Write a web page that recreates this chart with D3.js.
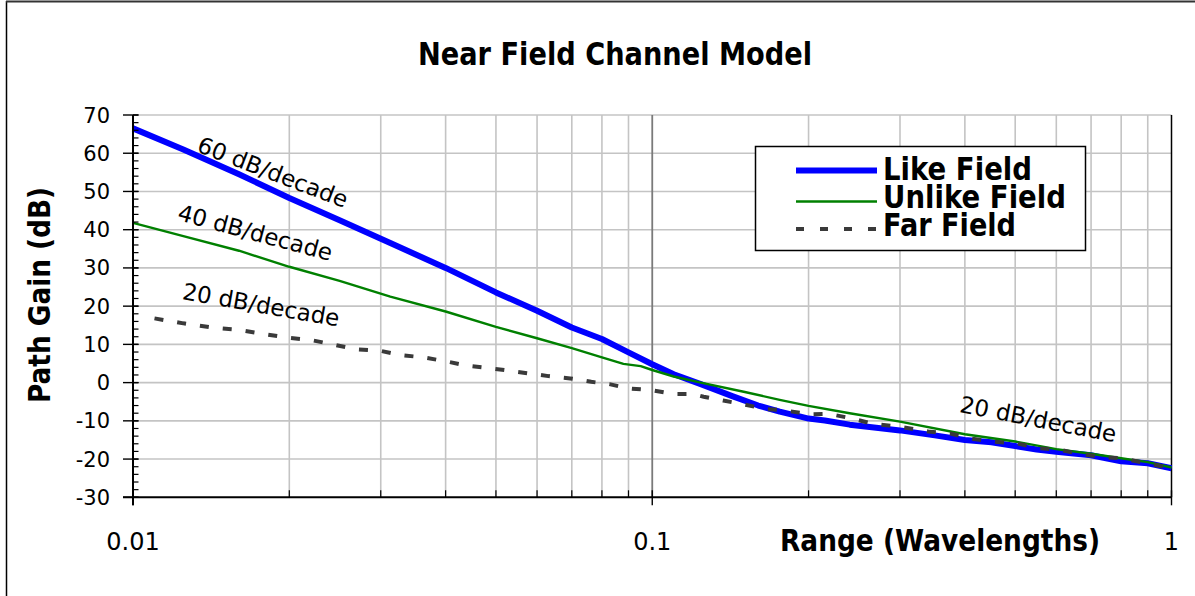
<!DOCTYPE html>
<html><head><meta charset="utf-8">
<script src="https://cdn.jsdelivr.net/npm/d3@7"></script>
<style>html,body{margin:0;padding:0;background:#fff;} svg{display:block;}</style>
</head><body><svg id="chart" width="1195" height="596"></svg>
<script>
// ---------------- data ----------------
const likeRange = [0.01, 0.0125, 0.016, 0.02, 0.025, 0.0313, 0.04, 0.05, 0.06, 0.07, 0.08, 0.09, 0.1, 0.11, 0.124, 0.143, 0.16, 0.176, 0.193, 0.2, 0.215, 0.24, 0.27, 0.3, 0.35, 0.4, 0.45, 0.5, 0.55, 0.6, 0.7, 0.8, 0.9, 1.0];
const likeGain  = [66.5, 61.0, 54.5, 48.3, 42.5, 36.5, 30.0, 23.6, 18.8, 14.4, 11.4, 7.9, 4.8, 2.2, -0.4, -3.6, -6.0, -7.6, -8.9, -9.4, -9.9, -11.0, -11.8, -12.5, -13.8, -15.0, -15.6, -16.6, -17.5, -18.1, -19.0, -20.6, -21.1, -22.4];

const unlikeRange = [0.01, 0.0125, 0.016, 0.02, 0.025, 0.0313, 0.04, 0.05, 0.06, 0.07, 0.08, 0.088, 0.095, 0.1, 0.11, 0.124, 0.15, 0.176, 0.2, 0.24, 0.3, 0.4, 0.5, 0.6, 0.7, 0.8, 0.9, 1.0];
const unlikeGain  = [41.8, 38.3, 34.5, 30.3, 26.6, 22.5, 18.6, 14.6, 11.6, 9.0, 6.6, 4.9, 4.3, 3.3, 1.6, 0.0, -2.4, -4.5, -6.1, -8.0, -10.2, -13.5, -15.4, -17.4, -18.6, -19.8, -20.8, -22.2];

const farRange = [0.011, 0.0125, 0.0142, 0.016, 0.0179, 0.02, 0.0221, 0.0246, 0.0269, 0.03, 0.0327, 0.0363, 0.0403, 0.0441, 0.0498, 0.0565, 0.0631, 0.0695, 0.0763, 0.0827, 0.0898, 0.1, 0.11, 0.12, 0.1256, 0.137, 0.15, 0.165, 0.178, 0.193, 0.202, 0.219, 0.241, 0.266, 0.305, 0.34, 0.375, 0.41, 0.451, 0.504, 0.559, 0.611, 0.668, 0.73, 0.80, 0.88, 1.0];
const farGain  = [16.8, 15.5, 14.4, 13.8, 12.7, 11.7, 11.1, 9.8, 8.7, 8.3, 7.2, 6.6, 5.5, 4.4, 3.6, 2.6, 1.7, 1.1, 0.2, -0.4, -1.5, -2.0, -3.0, -3.0, -3.7, -4.7, -5.7, -6.9, -7.2, -7.9, -8.3, -8.2, -9.3, -10.8, -11.7, -12.8, -13.3, -14.6, -15.4, -15.9, -17.2, -17.6, -18.7, -19.4, -19.8, -20.9, -22.4];

const xTickValues = [0.01, 0.1, 1];
const xTickLabels = ["0.01", "0.1", "1"];
const yTickValues = [-30, -20, -10, 0, 10, 20, 30, 40, 50, 60, 70];
const yTickLabels = ["-30", "-20", "-10", "0", "10", "20", "30", "40", "50", "60", "70"];

const seriesNames = ["Like Field", "Unlike Field", "Far Field"];

const annoText  = ["60 dB/decade", "40 dB/decade", "20 dB/decade", "20 dB/decade"];
const annoRange = [0.0186, 0.0172, 0.01765, 0.554];
const annoGain  = [55.1, 39.3, 20.4, -9.5];

// ---------------- layout ----------------
const svg = d3.select("#chart");
const L = 133, R = 1171.5, T = 115, B = 497.3;
const x = d3.scaleLog().domain([0.01, 1]).range([L, R]);
const y = d3.scaleLinear().domain([-30, 70]).range([B, T]);
const FONT = "'DejaVu Sans', Verdana, sans-serif";

// outer frame (left + top edges visible)
svg.append("line").attr("x1", 6.5).attr("x2", 6.5).attr("y1", 1).attr("y2", 596).attr("stroke", "#000").attr("stroke-width", 1.5);
svg.append("line").attr("x1", 6).attr("x2", 1195).attr("y1", 1.5).attr("y2", 1.5).attr("stroke", "#333").attr("stroke-width", 2);

// grid
const g = svg.append("g");
const minorX = x.ticks().filter(v => !xTickValues.some(t => Math.abs(t - v) < 1e-9));
g.selectAll(".vgrid").data(minorX).enter().append("line")
  .attr("x1", d => x(d)).attr("x2", d => x(d)).attr("y1", T).attr("y2", B)
  .attr("stroke", "#c4c4c4").attr("stroke-width", 1.6);
g.selectAll(".hgrid").data(yTickValues.filter(v => v > -30)).enter().append("line")
  .attr("x1", L).attr("x2", R).attr("y1", d => y(d)).attr("y2", d => y(d))
  .attr("stroke", "#c4c4c4").attr("stroke-width", 1.6);
g.append("line").attr("x1", x(0.1)).attr("x2", x(0.1)).attr("y1", T).attr("y2", B)
  .attr("stroke", "#7a7a7a").attr("stroke-width", 1.8);
// right border
g.append("line").attr("x1", R).attr("x2", R).attr("y1", T).attr("y2", B).attr("stroke", "#000").attr("stroke-width", 1.5);

// series
const lineGen = d3.line().x(d => x(d[0])).y(d => y(d[1]));
const zip = (a, b) => a.map((v, i) => [v, b[i]]);
svg.append("path").datum(zip(likeRange, likeGain)).attr("d", lineGen)
  .attr("fill", "none").attr("stroke", "#0000ff").attr("stroke-width", 6).attr("stroke-linejoin", "round");
svg.append("path").datum(zip(unlikeRange, unlikeGain)).attr("d", lineGen)
  .attr("fill", "none").attr("stroke", "#008000").attr("stroke-width", 2.4).attr("stroke-linejoin", "round");
svg.append("path").datum(zip(farRange, farGain)).attr("d", lineGen)
  .attr("fill", "none").attr("stroke", "#3a3a3a").attr("stroke-width", 4).attr("stroke-dasharray", "9,14");

// axes lines
svg.append("line").attr("x1", L).attr("x2", L).attr("y1", T).attr("y2", B + 8).attr("stroke", "#000").attr("stroke-width", 2);
svg.append("line").attr("x1", L - 10).attr("x2", R).attr("y1", B).attr("y2", B).attr("stroke", "#000").attr("stroke-width", 2);

// y ticks
const yMinor = d3.range(-30, 70.1, 2);
svg.selectAll(".ymin").data(yMinor).enter().append("line")
  .attr("x1", L).attr("x2", L + 5.5).attr("y1", d => y(d)).attr("y2", d => y(d))
  .attr("stroke", "#000").attr("stroke-width", 1.2);
svg.selectAll(".ymaj").data(yTickValues).enter().append("line")
  .attr("x1", L - 10).attr("x2", L + 5.5).attr("y1", d => y(d)).attr("y2", d => y(d))
  .attr("stroke", "#000").attr("stroke-width", 1.4);
svg.selectAll(".ylab").data(yTickValues).enter().append("text")
  .attr("x", 110).attr("y", d => y(d)).attr("dy", "0.36em")
  .attr("text-anchor", "end").attr("font-family", FONT).attr("font-size", 21).attr("fill", "#000")
  .text((d, i) => yTickLabels[i]);

// x ticks
svg.selectAll(".xmin").data(minorX).enter().append("line")
  .attr("x1", d => x(d)).attr("x2", d => x(d)).attr("y1", B).attr("y2", B - 7)
  .attr("stroke", "#000").attr("stroke-width", 1.2);
svg.selectAll(".xmaj").data(xTickValues).enter().append("line")
  .attr("x1", d => x(d)).attr("x2", d => x(d)).attr("y1", B - 7).attr("y2", B + 8)
  .attr("stroke", "#000").attr("stroke-width", 1.4);
svg.selectAll(".xlab").data(xTickValues).enter().append("text")
  .attr("x", d => x(d)).attr("y", 550)
  .attr("text-anchor", "middle").attr("font-family", FONT).attr("font-size", 24).attr("fill", "#000")
  .text((d, i) => xTickLabels[i]);

// titles
svg.append("text").attr("x", 615).attr("y", 65).attr("text-anchor", "middle")
  .attr("font-family", FONT).attr("font-weight", "bold").attr("font-size", 32)
  .attr("textLength", 394).attr("lengthAdjust", "spacingAndGlyphs")
  .text("Near Field Channel Model");
svg.append("text").attr("transform", "translate(50,295) rotate(-90)").attr("text-anchor", "middle")
  .attr("font-family", FONT).attr("font-weight", "bold").attr("font-size", 31)
  .attr("textLength", 216).attr("lengthAdjust", "spacingAndGlyphs")
  .text("Path Gain (dB)");
svg.append("text").attr("x", 940).attr("y", 551).attr("text-anchor", "middle")
  .attr("font-family", FONT).attr("font-weight", "bold").attr("font-size", 31)
  .attr("textLength", 320).attr("lengthAdjust", "spacingAndGlyphs")
  .text("Range (Wavelengths)");

// annotations
const annoAngle = [21, 15, 10, 11];
svg.selectAll(".anno").data(annoText).enter().append("text")
  .attr("transform", (d, i) => `translate(${x(annoRange[i])},${y(annoGain[i])}) rotate(${annoAngle[i]})`)
  .attr("text-anchor", "middle").attr("dy", "0.36em")
  .attr("font-family", FONT).attr("font-size", 23).attr("fill", "#000")
  .text(d => d);

// legend
const lg = svg.append("g");
lg.append("rect").attr("x", 755.5).attr("y", 146.5).attr("width", 330).attr("height", 104)
  .attr("fill", "#fff").attr("stroke", "#000").attr("stroke-width", 1.5);
const legStroke = ["#0000ff", "#008000", "#3a3a3a"];
const legWidth = [6, 2.4, 4];
const legDash = [null, null, "8,16"];
const legY = [170.5, 201.5, 229];
const legBase = [179.5, 207.5, 236];
const legLen = [149, 183, 133];
seriesNames.forEach((name, i) => {
  lg.append("line").attr("x1", 796).attr("x2", 877).attr("y1", legY[i]).attr("y2", legY[i])
    .attr("stroke", legStroke[i]).attr("stroke-width", legWidth[i]).attr("stroke-dasharray", legDash[i]);
  lg.append("text").attr("x", 883).attr("y", legBase[i])
    .attr("font-family", FONT).attr("font-weight", "bold").attr("font-size", 32)
    .attr("textLength", legLen[i]).attr("lengthAdjust", "spacingAndGlyphs")
    .text(name);
});
</script>
</body></html>
